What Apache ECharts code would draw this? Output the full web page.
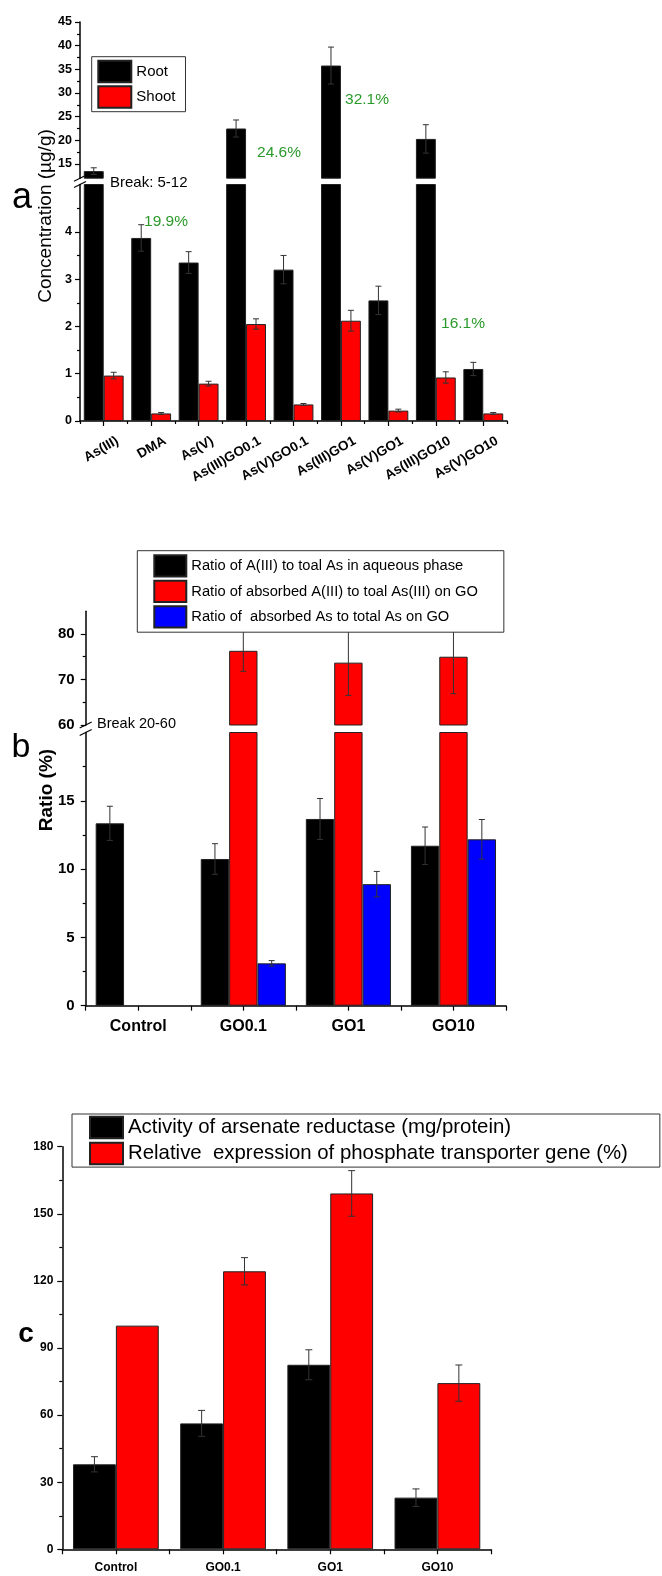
<!DOCTYPE html>
<html>
<head>
<meta charset="utf-8">
<script src="https://cdn.jsdelivr.net/npm/echarts@6/dist/echarts.min.js"></script>
<style>
html,body{margin:0;padding:0;background:#fff;}
#chart{width:662px;height:1576px;}
</style>
</head>
<body>
<div id="chart"></div>
<script>
// ---------- DATA ----------
const catA = ['As(III)','DMA','As(V)','As(III)GO0.1','As(V)GO0.1','As(III)GO1','As(V)GO1','As(III)GO10','As(V)GO10'];
const rootA = [13.5, 3.87, 3.35, 22.5, 3.2, 35.8, 2.55, 20.3, 1.1];
const rootErrA = [0.7, 0.28, 0.23, 1.8, 0.3, 3.9, 0.3, 3.0, 0.14];
const shootA = [0.96, 0.16, 0.79, 2.05, 0.35, 2.12, 0.22, 0.92, 0.16];
const shootErrA = [0.07, 0.02, 0.05, 0.11, 0.02, 0.22, 0.03, 0.12, 0.02];
const pctA = ['19.9%', '24.6%', '32.1%', '16.1%'];
const breakA = [5, 12];
const ticksAUpper = [15, 20, 25, 30, 35, 40, 45];
const minorAUpper = [17.5, 22.5, 27.5, 32.5, 37.5, 42.5];
const ticksALower = [0, 1, 2, 3, 4];
const minorALower = [0.5, 1.5, 2.5, 3.5, 4.5];

const catB = ['Control', 'GO0.1', 'GO1', 'GO10'];
const aqB = [13.35, 10.74, 13.67, 11.71];
const aqErrB = [1.25, 1.12, 1.5, 1.37];
const adsB = [null, 76.3, 73.7, 75.0];
const adsErrB = [null, 4.5, 7.2, 8.1];
const totB = [null, 3.1, 8.9, 12.18];
const totErrB = [null, 0.2, 0.93, 1.45];
const breakB = [20, 60];
const ticksBUpper = [60, 70, 80];
const minorBUpper = [65, 75];
const ticksBLower = [0, 5, 10, 15];
const minorBLower = [2.5, 7.5, 12.5, 17.5];

const catC = ['Control', 'GO0.1', 'GO1', 'GO10'];
const arC = [38, 56.3, 82.5, 23.1];
const arErrC = [3.4, 5.8, 6.7, 3.9];
const ptC = [100, 124.3, 159.1, 74.3];
const ptErrC = [0, 6.1, 10.2, 8.1];

const namesA = ['Root', 'Shoot'];
const namesB = ['Ratio of A(III) to toal As in aqueous phase', 'Ratio of absorbed A(III) to toal As(III) on GO', 'Ratio of  absorbed As to total As on GO'];
const namesC = ['Activity of arsenate reductase (mg/protein)', 'Relative  expression of phosphate transporter gene (%)'];

// ---------- LAYOUT ----------
const FONT = '"Liberation Sans", Arial, sans-serif';
const GA = {left: 80, width: 427, upTop: 22, upH: 156.2, loTop: 184.5, loH: 236.5};
const GB = {left: 85.7, width: 420.3, upTop: 611.2, upH: 113.8, loTop: 732.5, loH: 273.2};
const GC = {left: 62.3, width: 428.7, top: 1146.7, height: 402.6};
const gapA = 0.16, gapB = 0.19, gapC = 0.20;
const RED = '#ff0000', BLACK = '#000000', BLUE = '#0000ff', GREEN = '#2a9a2a';
const barBorder = {borderColor: '#222', borderWidth: 1};
const axisLineStyle = {color: '#000', width: 1.5};

function valAxis(grid, min, max, ticks, labels, fontSize, margin) {
  return {
    type: 'value', gridIndex: grid, min: min, max: max, position: 'left',
    axisLine: {show: true, lineStyle: axisLineStyle},
    axisTick: {show: true, length: 5, lineStyle: {color: '#000', width: 1.2}, customValues: ticks},
    axisLabel: {show: labels, customValues: ticks, fontSize: fontSize, fontWeight: 'bold', color: '#000', fontFamily: FONT, margin: margin},
    splitLine: {show: false}
  };
}
function minorAxis(grid, min, max, ticks) {
  return {
    type: 'value', gridIndex: grid, min: min, max: max, position: 'left',
    axisLine: {show: false},
    axisTick: {show: true, length: 3, lineStyle: {color: '#000', width: 1.2}, customValues: ticks},
    axisLabel: {show: false},
    splitLine: {show: false}
  };
}
function hiddenX(grid, cats) {
  return {type: 'category', gridIndex: grid, data: cats, show: false};
}
function boundX(grid, cats, len) {
  return {
    type: 'category', gridIndex: grid, data: cats, position: 'bottom',
    axisLine: {show: false},
    axisTick: {show: true, length: len, interval: 0, alignWithLabel: false, lineStyle: {color: '#000', width: 1.2}},
    axisLabel: {show: false}, splitLine: {show: false}
  };
}
function labelX(grid, cats, label) {
  return {
    type: 'category', gridIndex: grid, data: cats, position: 'bottom',
    axisLine: {show: true, lineStyle: axisLineStyle},
    axisTick: {show: true, length: 5, interval: 0, alignWithLabel: true, lineStyle: {color: '#000', width: 1.2}},
    axisLabel: Object.assign({interval: 0, color: '#000', fontWeight: 'bold', fontFamily: FONT}, label),
    splitLine: {show: false}
  };
}
function bar(name, xi, yi, data, color, gap) {
  return {
    type: 'bar', name: name, xAxisIndex: xi, yAxisIndex: yi, data: data,
    barGap: '0%', barCategoryGap: (gap * 100) + '%', clip: true,
    itemStyle: Object.assign({color: color}, barBorder), z: 2
  };
}
function errBars(xi, yi, vals, errs, idx, n, gap, keep, cap) {
  const data = [];
  vals.forEach((v, i) => {
    if (v != null && errs[i] != null && errs[i] > 0 && keep(v)) data.push([i, v, errs[i]]);
  });
  return {
    type: 'custom', xAxisIndex: xi, yAxisIndex: yi, data: data, z: 3, silent: true,
    encode: {x: 0, y: 1},
    renderItem: function (params, api) {
      const i = api.value(0), v = api.value(1), e = api.value(2);
      const catW = api.size([1, 0])[0];
      const gw = catW * (1 - gap), bw = gw / n;
      const cx = api.coord([i, v])[0] - gw / 2 + bw * (idx + 0.5);
      const yt = api.coord([i, v + e])[1], yb = api.coord([i, v - e])[1];
      const st = {stroke: '#333', lineWidth: 1};
      return {type: 'group', children: [
        {type: 'line', shape: {x1: cx, y1: yt, x2: cx, y2: yb}, style: st},
        {type: 'line', shape: {x1: cx - cap, y1: yt, x2: cx + cap, y2: yt}, style: st},
        {type: 'line', shape: {x1: cx - cap, y1: yb, x2: cx + cap, y2: yb}, style: st}
      ]};
    }
  };
}
function txt(text, x, y, size, opts) {
  return Object.assign({
    type: 'text', x: x, y: y, silent: true,
    style: Object.assign({text: text, fill: '#000', font: size + 'px ' + FONT, textAlign: 'center', textVerticalAlign: 'middle'}, (opts && opts.style) || {})
  }, (opts && opts.el) || {});
}
function breakMarks(x, yTopGap, yBotGap) {
  const st = {stroke: '#000', lineWidth: 1.2};
  return [
    {type: 'line', silent: true, shape: {x1: x - 6, y1: yTopGap + 3, x2: x + 6, y2: yTopGap - 3}, style: st},
    {type: 'line', silent: true, shape: {x1: x - 6, y1: yBotGap + 3, x2: x + 6, y2: yBotGap - 3}, style: st}
  ];
}

const grids = [
  {left: GA.left, top: GA.upTop, width: GA.width, height: GA.upH},
  {left: GA.left, top: GA.loTop, width: GA.width, height: GA.loH},
  {left: GB.left, top: GB.upTop, width: GB.width, height: GB.upH},
  {left: GB.left, top: GB.loTop, width: GB.width, height: GB.loH},
  {left: GC.left, top: GC.top, width: GC.width, height: GC.height}
];

const xAxes = [
  hiddenX(0, catA),                                                             // 0
  labelX(1, catA, {rotate: 30, fontSize: 13.5, margin: 27, padding: [0, -16, 0, 0]}), // 1
  boundX(1, catA, 3),                                                           // 2
  hiddenX(2, catB),                                                             // 3
  labelX(3, catB, {fontSize: 16, margin: 13}),                                  // 4
  boundX(3, catB, 5),                                                           // 5
  labelX(4, catC, {fontSize: 12, margin: 12}),                                  // 6
  boundX(4, catC, 5)                                                            // 7
];
const cAxis = {
  type: 'value', gridIndex: 4, min: 0, max: 180, interval: 30, position: 'left',
  axisLine: {show: true, lineStyle: axisLineStyle},
  axisTick: {show: true, length: 5, lineStyle: {color: '#000', width: 1.2}},
  minorTick: {show: true, splitNumber: 2, length: 3, lineStyle: {color: '#000', width: 1.2}},
  axisLabel: {fontSize: 12, fontWeight: 'bold', color: '#000', fontFamily: FONT, margin: 9},
  splitLine: {show: false}
};
const yAxes = [
  valAxis(0, breakA[1], 45, ticksAUpper, true, 12.5, 8),  // 0
  minorAxis(0, breakA[1], 45, minorAUpper),               // 1
  valAxis(1, 0, breakA[0], ticksALower, true, 12.5, 8),   // 2
  minorAxis(1, 0, breakA[0], minorALower),                // 3
  valAxis(2, breakB[1], 85, ticksBUpper, true, 15, 11),   // 4
  minorAxis(2, breakB[1], 85, minorBUpper),               // 5
  valAxis(3, 0, breakB[0], ticksBLower, true, 15, 11),    // 6
  minorAxis(3, 0, breakB[0], minorBLower),                // 7
  cAxis                                                   // 8
];

const series = [
  bar(namesA[0], 0, 0, rootA, BLACK, gapA),
  bar(namesA[1], 0, 0, shootA, RED, gapA),
  bar(namesA[0], 1, 2, rootA, BLACK, gapA),
  bar(namesA[1], 1, 2, shootA, RED, gapA),
  errBars(0, 0, rootA, rootErrA, 0, 2, gapA, v => v > breakA[1], 3),
  errBars(1, 2, rootA, rootErrA, 0, 2, gapA, v => v <= breakA[0], 3),
  errBars(1, 2, shootA, shootErrA, 1, 2, gapA, v => v <= breakA[0], 3),
  bar(namesB[0], 3, 4, aqB, BLACK, gapB),
  bar(namesB[1], 3, 4, adsB, RED, gapB),
  bar(namesB[2], 3, 4, totB, BLUE, gapB),
  bar(namesB[0], 4, 6, aqB, BLACK, gapB),
  bar(namesB[1], 4, 6, adsB, RED, gapB),
  bar(namesB[2], 4, 6, totB, BLUE, gapB),
  errBars(3, 4, adsB, adsErrB, 1, 3, gapB, v => v > breakB[1], 3),
  errBars(4, 6, aqB, aqErrB, 0, 3, gapB, v => v <= breakB[0], 3),
  errBars(4, 6, totB, totErrB, 2, 3, gapB, v => v <= breakB[0], 3),
  bar(namesC[0], 6, 8, arC, BLACK, gapC),
  bar(namesC[1], 6, 8, ptC, RED, gapC),
  errBars(6, 8, arC, arErrC, 0, 2, gapC, v => true, 3.5),
  errBars(6, 8, ptC, ptErrC, 1, 2, gapC, v => true, 3.5)
];

const legendBase = {
  orient: 'vertical', icon: 'rect', backgroundColor: '#fff', borderColor: '#333', borderWidth: 1,
  selectedMode: false, z: 10, textStyle: {color: '#000', fontFamily: FONT}
};
const legends = [
  Object.assign({}, legendBase, {data: namesA, left: 91.7, top: 56.7, itemWidth: 33, itemHeight: 21.5, itemGap: 2,
    padding: [3, 10, 3, 5.6], textStyle: {color: '#000', fontFamily: FONT, fontSize: 15}}),
  Object.assign({}, legendBase, {data: namesB, left: 137.3, top: 550.7, itemWidth: 32, itemHeight: 21.3, itemGap: 2.2,
    padding: [3.6, 26, 3.6, 16], textStyle: {color: '#000', fontFamily: FONT, fontSize: 14.7}}),
  Object.assign({}, legendBase, {data: namesC, left: 72, top: 1114, itemWidth: 33, itemHeight: 21.5, itemGap: 2.5,
    padding: [1.8, 32, 1.8, 17], textStyle: {color: '#000', fontFamily: FONT, fontSize: 20.4}})
];

const graphics = [].concat(
  breakMarks(GA.left, GA.upTop + GA.upH, GA.loTop),
  breakMarks(GB.left, GB.upTop + GB.upH, GB.loTop),
  [
    txt(pctA[0], 166, 222, 15.5, {style: {fill: GREEN}}),
    txt(pctA[1], 279, 153, 15.5, {style: {fill: GREEN}}),
    txt(pctA[2], 367, 100, 15.5, {style: {fill: GREEN}}),
    txt(pctA[3], 463, 324, 15.5, {style: {fill: GREEN}}),
    txt('Break: ' + breakA[0] + '-' + breakA[1], 110, 183, 15, {style: {textAlign: 'left'}}),
    txt('Break ' + breakB[0] + '-' + breakB[1], 97, 724, 14.5, {style: {textAlign: 'left'}}),
    txt('Concentration (\u00b5g/g)', 46, 216, 19, {el: {rotation: Math.PI / 2}}),
    txt('Ratio (%)', 47, 790, 19, {el: {rotation: Math.PI / 2}, style: {font: 'bold 19px ' + FONT}}),
    txt('a', 22, 198, 36, {}),
    txt('b', 21, 748, 34, {}),
    txt('c', 26, 1334, 28, {style: {font: 'bold 28px ' + FONT}})
  ]
);

const chart = echarts.init(document.getElementById('chart'), null, {renderer: 'canvas'});
chart.setOption({
  animation: false,
  backgroundColor: '#fff',
  textStyle: {fontFamily: FONT},
  grid: grids,
  xAxis: xAxes,
  yAxis: yAxes,
  legend: legends,
  series: series,
  graphic: graphics
});
</script>
</body>
</html>
